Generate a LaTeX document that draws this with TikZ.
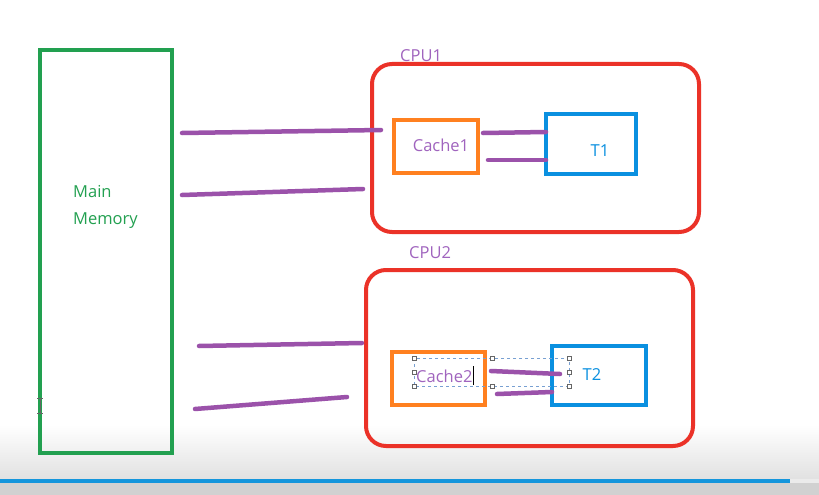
\documentclass[tikz,border=0pt]{standalone}
\usepackage{fontspec}
\setmainfont{Open Sans}
\usetikzlibrary{shadings}
\definecolor{memgreen}{RGB}{34,160,80}
\definecolor{cpured}{RGB}{235,50,40}
\definecolor{cacheorange}{RGB}{255,128,32}
\definecolor{threadblue}{RGB}{10,144,224}
\definecolor{wirepurple}{RGB}{155,82,170}
\definecolor{labelpurple}{RGB}{160,100,190}
\definecolor{selblue}{RGB}{120,160,210}
\definecolor{barblue}{RGB}{20,150,220}
\begin{document}
\begin{tikzpicture}[x=1pt,y=-1pt,
  memory/.style={draw=memgreen,line width=4pt},
  cpubox/.style={draw=cpured,line width=4pt,rounded corners=20pt},
  cachebox/.style={draw=cacheorange,line width=4pt},
  threadbox/.style={draw=threadblue,line width=4pt},
  wire/.style={draw=wirepurple,line width=4.5pt,line cap=round},
  caption/.style={font=\fontsize{16.5}{19}\selectfont,inner sep=0pt},
  handle/.style={draw=black!60,fill=white,line width=0.6pt,minimum size=4pt,inner sep=0pt}]
% canvas and window footer
\useasboundingbox (0,0) rectangle (819,495);
\fill[white] (0,0) rectangle (819,495);
\shade[top color=white,bottom color=black!12] (0,425) rectangle (819,480);
\fill[black!18] (0,482) rectangle (819,495);
\fill[barblue] (0,479) rectangle (790,483);
\fill[black!8] (790,479) rectangle (819,483);

% main memory
\draw[memory] (40,50) rectangle (172,453);
\node[caption,text=memgreen,anchor=base west] (mm1) at (73,197) {Main};
\node[caption,text=memgreen,anchor=base west] (mm2) at (73,224) {Memory};
\draw[black!60,line width=0.8pt] (40,398) -- (40,413) (37,398) -- (43,398) (37,413) -- (43,413);

% CPU1
\draw[cpubox] (372,64) rectangle (699,232);
\node[caption,text=labelpurple,anchor=base west] (cpu1) at (400,62) {CPU1};
\node[cachebox,minimum width=84pt,minimum height=53pt,inner sep=0pt] (cache1) at (436,146.5) {};
\node[caption,text=labelpurple] (c1t) at (441,145) {Cache1};
\node[threadbox,minimum width=90pt,minimum height=60pt,inner sep=0pt] (t1) at (591,144) {};
\node[caption,text=threadblue] (t1t) at (600,151) {T1};

% CPU2
\draw[cpubox] (366,270) rectangle (693,446);
\node[caption,text=labelpurple,anchor=base west] (cpu2) at (409,258) {CPU2};
\node[cachebox,minimum width=93pt,minimum height=53pt,inner sep=0pt] (cache2) at (438.5,378.5) {};
\node[threadbox,minimum width=94pt,minimum height=59pt,inner sep=0pt] (t2) at (599,375.5) {};
\node[caption,text=threadblue] (t2t) at (592,375) {T2};

% text selection frame around Cache2
\draw[selblue,dashed,line width=0.7pt] (414,358) rectangle (569,386);
\foreach \hx/\hy in {414/358,492/358,569/358,414/372,569/372,414/386,492/386,569/386}
  \node[handle] at (\hx,\hy) {};
\node[caption,text=labelpurple,anchor=west] (c2t) at (416,376) {Cache2};
\draw[black,line width=0.8pt] (473,366) -- (473,385);

% wires between memory, caches and threads
\coordinate (m1a) at (182,133); \coordinate (m1b) at (381,130);
\coordinate (m2a) at (182,195); \coordinate (m2b) at (363,189);
\coordinate (m3a) at (199,346); \coordinate (m3b) at (362,343);
\coordinate (m4a) at (195,409); \coordinate (m4b) at (347,397);
\coordinate (k1a) at (483,133); \coordinate (k1b) at (546,132);
\coordinate (k2a) at (488,160); \coordinate (k2b) at (546,160);
\coordinate (k3a) at (491,371); \coordinate (k3b) at (560,374);
\coordinate (k4a) at (497,394); \coordinate (k4b) at (552,392);
\foreach \a/\b in {m1a/m1b,m2a/m2b,m3a/m3b,m4a/m4b,k1a/k1b,k2a/k2b,k3a/k3b,k4a/k4b}
  \draw[wire] (\a) -- (\b);
\end{tikzpicture}
\end{document}
